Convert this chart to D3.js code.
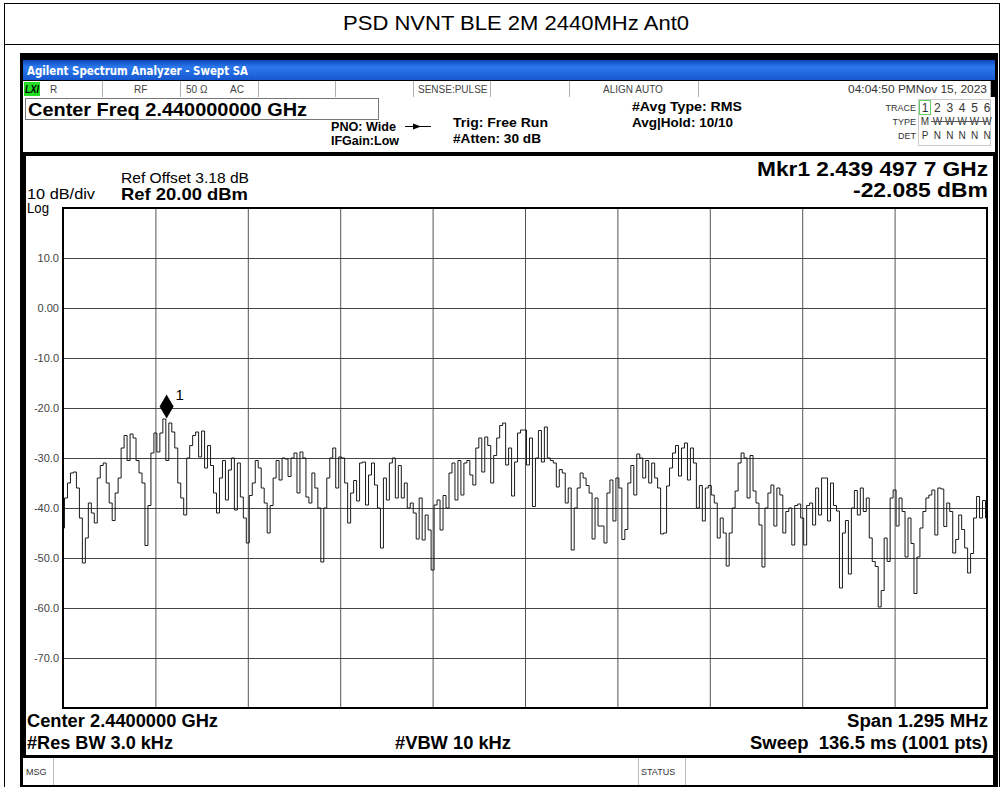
<!DOCTYPE html>
<html>
<head>
<meta charset="utf-8">
<script src="https://cdn.jsdelivr.net/npm/d3@7"></script>
<style>
  body { margin: 0; background: #fff; }
  svg text { font-family: "Liberation Sans", Arial, sans-serif; }
</style>
</head>
<body>
<svg id="chart" width="1003" height="787"></svg>
<script>
// ----- data ----- //
const centerMHz = 2440.0;
const spanMHz = 1.295;
const refLevel = 20;      // dBm, top of graticule
const dbPerDiv = 10;
const yTickLabels = ["10.0", "0.00", "-10.0", "-20.0", "-30.0", "-40.0", "-50.0", "-60.0", "-70.0"];
const yTickValues = [10, 0, -10, -20, -30, -40, -50, -60, -70];

// trace, dBm, one array per horizontal division (left to right)
const div0 = [-44, -38, -35, -33, -32.8, -36, -42, -51, -46, -39, -41, -43, -34, -31.5, -31, -35, -39, -42.5, -37, -34, -28, -25.5, -30.5, -25.2, -26, -30.5, -33, -35, -47.5, -39.5, -29];
const div1 = [-25, -28.8, -25, -22.2, -30.5, -23, -24.8, -28, -35, -38, -41.4, -30, -27.5, -25.5, -24.8, -29.8, -24.6, -32, -27.5, -31.5, -37, -41, -34, -30.5, -38.4, -32.4, -30, -40.4, -31, -37.8, -42];
const div2 = [-47, -37.5, -35, -30.5, -32, -36, -39, -45, -39.5, -34, -30.5, -34.4, -30, -30.2, -33.7, -30, -29, -37, -28.8, -30, -37.8, -39, -33, -36, -40, -50.8, -40, -34, -30, -28, -36];
const div3 = [-29.8, -30, -35, -43, -37, -34.5, -38.6, -31, -30.8, -39.4, -33.4, -31, -35.4, -40, -48, -34, -38.4, -31, -30, -38, -31.5, -38, -35, -40, -39, -41, -46.2, -38, -46.4, -41.4, -44.4];
const div4 = [-52.4, -39.4, -38.4, -44.4, -37.5, -40, -33, -31, -38.4, -30.5, -37.4, -31, -30.5, -33.4, -35.4, -28, -26, -32.8, -25.8, -27.5, -35, -29.5, -26, -23.5, -23, -31.4, -28, -37.6, -30.8, -25, -24.4];
const div5 = [-24.4, -31.4, -26, -39.7, -30, -24.5, -30.8, -23.8, -30, -30.5, -31, -35.8, -32.3, -33, -39, -36, -48.4, -40, -36, -33, -34, -35.5, -37, -46.2, -38, -43.6, -43.6, -47, -37, -34.4, -42.6];
const div6 = [-34, -36, -46.3, -44.3, -35, -31.5, -37.4, -29.2, -30, -34, -30.5, -35, -31, -34, -36, -45.2, -45, -35.6, -32, -29, -27.5, -33.6, -28, -27, -34.4, -28, -31, -40, -35.5, -42.6, -36];
const div7 = [-35.5, -37.4, -39, -46, -42, -45, -51.6, -45, -40, -36.6, -31, -29, -30, -38, -29.5, -36.6, -39, -43.4, -51.8, -40, -37, -35.4, -43.6, -36, -37.4, -45, -40.7, -40, -47.4, -39.5, -39.2];
const div8 = [-42, -47.4, -39.5, -39, -43.4, -36, -41.4, -34, -34, -42.6, -35, -39.5, -40.6, -56, -45, -42.5, -53.2, -40, -36.5, -41.4, -36, -40.7, -38, -46, -50.7, -51.7, -59.8, -56.5, -46, -50.7, -38];
const div9 = [-36.4, -43.6, -38, -40.7, -49.8, -42, -47.1, -57.1, -49.8, -44, -40.7, -38, -37.4, -36.4, -45.4, -36, -36.2, -43.7, -39, -40.7, -49, -46.3, -41.4, -44.3, -48, -53, -49.1, -42, -37.7, -42, -38.5, -42];

const markerFreqMHz = 2439.4977;
const markerLevel = -22.085;

// ----- helpers ----- //
const svg = d3.select("#chart");
const gx0 = 63, gx1 = 987, gy0 = 208, gy1 = 708;

// text squeezed to the width it has on the analyzer screen
function label(txt, x, y, size, opts) {
  opts = opts || {};
  const t = svg.append("text").attr("x", x).attr("y", y).style("font-size", size + "px").text(txt);
  if (opts.bold) t.style("font-weight", "bold");
  if (opts.anchor) t.attr("text-anchor", opts.anchor);
  if (opts.fill) t.attr("fill", opts.fill);
  if (opts.len) t.attr("textLength", opts.len).attr("lengthAdjust", "spacingAndGlyphs");
  if (opts.font) t.style("font-family", opts.font);
  return t;
}

// outer table lines + title
svg.append("rect").attr("x", 4.5).attr("y", 3.5).attr("width", 995).attr("height", 790)
   .attr("fill", "none").attr("stroke", "#000");
svg.append("line").attr("x1", 4.5).attr("x2", 999.5).attr("y1", 44.5).attr("y2", 44.5).attr("stroke", "#000");
label("PSD NVNT BLE 2M 2440MHz Ant0", 516, 30, 21, {anchor: "middle", len: 346});

// screenshot frame
svg.append("rect").attr("x", 20).attr("y", 53).attr("width", 978).attr("height", 734).attr("fill", "#000");
const defs = svg.append("defs");
const grad = defs.append("linearGradient").attr("id", "bar").attr("x1", 0).attr("x2", 0).attr("y1", 0).attr("y2", 1);
grad.append("stop").attr("offset", "0%").attr("stop-color", "#0b46b8");
grad.append("stop").attr("offset", "35%").attr("stop-color", "#2b78ec");
grad.append("stop").attr("offset", "100%").attr("stop-color", "#1758d0");
svg.append("rect").attr("x", 23).attr("y", 60).attr("width", 972).attr("height", 20).attr("fill", "url(#bar)");
label("Agilent Spectrum Analyzer - Swept SA", 27, 75, 12,
      {fill: "#fff", bold: true, len: 221, font: "'DejaVu Sans Condensed', 'DejaVu Sans', sans-serif"});

// status row
svg.append("rect").attr("x", 23).attr("y", 81).attr("width", 967).attr("height", 16).attr("fill", "#fff");
[102, 180, 258, 335, 413, 490, 569, 698, 990].forEach(function(x) {
  svg.append("line").attr("x1", x + 0.5).attr("x2", x + 0.5).attr("y1", 81).attr("y2", 97).attr("stroke", "#b0b0b0");
});
svg.append("rect").attr("x", 24).attr("y", 82).attr("width", 16).attr("height", 14).attr("fill", "#22dd22");
label("LXI", 25, 93, 10, {bold: true, len: 14}).style("font-style", "italic");
[["R", 50], ["RF", 134], ["50 Ω", 186], ["AC", 230], ["SENSE:PULSE", 418], ["ALIGN AUTO", 603]].forEach(function(s) {
  label(s[0], s[1], 93, 10, {fill: "#444"});
});
label("04:04:50 PMNov 15, 2023", 987, 93, 11, {anchor: "end", fill: "#333", len: 139});

// settings area
svg.append("rect").attr("x", 23).attr("y", 97).attr("width", 972).attr("height", 55).attr("fill", "#fff");
svg.append("rect").attr("x", 25.5).attr("y", 98.5).attr("width", 353).attr("height", 21)
   .attr("fill", "#fff").attr("stroke", "#777");
label("Center Freq 2.440000000 GHz", 28, 116, 19, {bold: true, len: 279});
[["PNO: Wide", 331, 131, 65], ["IFGain:Low", 331, 145, 68], ["Trig: Free Run", 453, 127, 95],
 ["#Atten: 30 dB", 453, 143, 88], ["#Avg Type: RMS", 632, 111, 110], ["Avg|Hold: 10/10", 632, 127, 101]]
  .forEach(function(b) { label(b[0], b[1], b[2], 13, {bold: true, len: b[3]}); });
// trigger arrow
svg.append("line").attr("x1", 405).attr("x2", 431).attr("y1", 126.5).attr("y2", 126.5).attr("stroke", "#000");
svg.append("path").attr("d", "M413,123.5 L421,126.5 L413,129.5 Z").attr("fill", "#000");

// trace table
[["TRACE", 111], ["TYPE", 125], ["DET", 139]].forEach(function(t) {
  label(t[0], 916, t[1], 9, {anchor: "end", fill: "#333"});
});
svg.append("rect").attr("x", 918.5).attr("y", 99.5).attr("width", 72).attr("height", 46)
   .attr("fill", "none").attr("stroke", "#ccc");
svg.append("rect").attr("x", 919.5).attr("y", 100.5).attr("width", 11).attr("height", 14)
   .attr("fill", "none").attr("stroke", "#66cc66");
const traceNums = ["1", "2", "3", "4", "5", "6"];
const typeRow = ["M", "W", "W", "W", "W", "W"];
const detRow = ["P", "N", "N", "N", "N", "N"];
traceNums.forEach(function(t, i) {
  label(t, 925 + i * 12.4, 112, 12, {anchor: "middle", fill: "#333"});
  label(typeRow[i], 925 + i * 12.4, 125, 10, {anchor: "middle", fill: "#333"});
  label(detRow[i], 925 + i * 12.4, 139, 10, {anchor: "middle", fill: "#333"});
});
svg.append("line").attr("x1", 931).attr("x2", 988).attr("y1", 121.5).attr("y2", 121.5).attr("stroke", "#555");

// main panel
svg.append("rect").attr("x", 26).attr("y", 156).attr("width", 967).attr("height", 599).attr("fill", "#fff");
label("Ref Offset 3.18 dB", 121, 183, 15, {len: 128});
label("Ref 20.00 dBm", 121, 200, 17, {bold: true, len: 127});
label("10 dB/div", 27, 199, 14, {len: 68});
label("Log", 27, 213, 14, {len: 22});
label("Mkr1 2.439 497 7 GHz", 988, 176, 21, {bold: true, anchor: "end", len: 231});
label("-22.085 dBm", 988, 197, 21, {bold: true, anchor: "end", len: 135});

// ----- scales + graticule ----- //
const x = d3.scaleLinear().domain([centerMHz - spanMHz / 2, centerMHz + spanMHz / 2]).range([gx0, gx1]);
const y = d3.scaleLinear().domain([refLevel - 10 * dbPerDiv, refLevel]).range([gy1, gy0]);

const xDivs = d3.range(1, 10).map(function(i) { return x.domain()[0] + i * spanMHz / 10; });
const gridX = svg.append("g").attr("transform", "translate(0," + gy1 + ")")
  .call(d3.axisBottom(x).tickValues(xDivs).tickSize(-(gy1 - gy0)).tickFormat(""));
gridX.select(".domain").remove();
gridX.selectAll("line").attr("stroke", "#555");

const gridY = svg.append("g").attr("transform", "translate(" + gx0 + ",0)")
  .call(d3.axisLeft(y).tickValues(yTickValues).tickSize(-(gx1 - gx0)).tickPadding(4)
        .tickFormat(function(d, i) { return yTickLabels[i]; }));
gridY.select(".domain").remove();
gridY.selectAll("line").attr("stroke", "#444");
gridY.selectAll("text").attr("fill", "#444").style("font-size", "11px")
     .style("font-family", "'Liberation Sans', Arial, sans-serif");

svg.append("rect").attr("x", gx0).attr("y", gy0).attr("width", gx1 - gx0).attr("height", gy1 - gy0)
   .attr("fill", "none").attr("stroke", "#000").attr("stroke-width", 2);

// ----- trace ----- //
const trace = [].concat(div0, div1, div2, div3, div4, div5, div6, div7, div8, div9);
const step = spanMHz / (trace.length - 1);
defs.append("clipPath").attr("id", "plot").append("rect")
    .attr("x", gx0).attr("y", gy0).attr("width", gx1 - gx0).attr("height", gy1 - gy0);
const line = d3.line()
  .x(function(d, i) { return x(x.domain()[0] + i * step); })
  .y(function(d) { return y(d); })
  .curve(d3.curveStep);
svg.append("path").datum(trace).attr("clip-path", "url(#plot)").attr("d", line)
   .attr("fill", "none").attr("stroke", "#1a1a1a").attr("stroke-width", 1);

// marker
const mx = x(markerFreqMHz), my = y(markerLevel);
svg.append("path").attr("d", "M" + mx + "," + my + " l-7,-12 l7,-12 l7,12 Z").attr("fill", "#000");
label("1", mx + 9, my - 18, 15, {});

// ----- bottom info ----- //
[["Center 2.4400000 GHz", 27, 727, "start", 191], ["Span 1.295 MHz", 988, 727, "end", 141],
 ["#Res BW 3.0 kHz", 27, 749, "start", 146], ["#VBW 10 kHz", 395, 749, "start", 116],
 ["Sweep  136.5 ms (1001 pts)", 988, 749, "end", 238]].forEach(function(b) {
  label(b[0], b[1], b[2], 18, {bold: true, anchor: b[3], len: b[4]}).style("white-space", "pre");
});

// message row
svg.append("rect").attr("x", 23).attr("y", 758).attr("width", 970).attr("height", 27).attr("fill", "#fff");
[53, 638, 685].forEach(function(xx) {
  svg.append("line").attr("x1", xx + 0.5).attr("x2", xx + 0.5).attr("y1", 758).attr("y2", 785).attr("stroke", "#bbb");
});
label("MSG", 26, 775, 9, {fill: "#333"});
label("STATUS", 641, 775, 9, {fill: "#333"});
</script>
</body>
</html>
